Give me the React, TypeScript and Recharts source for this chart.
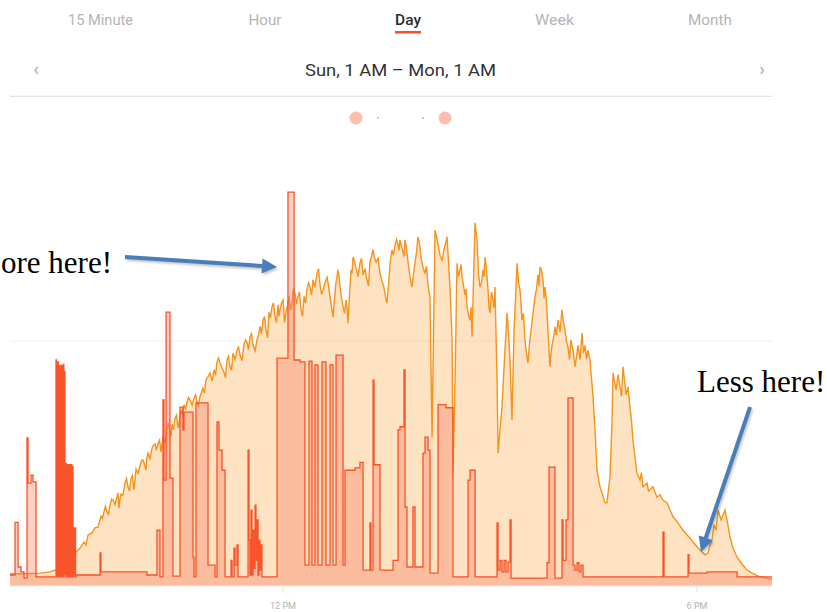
import React from 'react';
import { ComposedChart, Area, XAxis, YAxis, CartesianGrid } from 'recharts';

// Time in minutes after midnight, power in kW
const solarTimes = [
  482.6, 495.6, 508.7, 517.4, 524.3, 530.4, 534.8, 539.1, 543.5, 546.9, 548.7, 550.4, 553.9, 556.5, 559.1,
  561.7, 564.3, 566.9, 569.6, 572.2, 575.6, 577.4, 579.1, 582.6, 585.2, 587.8, 590.4, 592.2, 595.6, 598.3,
  600.9, 602.6, 606.1, 608.7, 611.3, 613.9, 615.6, 619.1, 621.7, 623.5, 626.1, 628.7, 631.3, 633.9, 636.5,
  639.1, 642.6, 645.2, 647.8, 650.4, 653.0, 656.5, 660.0, 662.6, 665.2, 668.7, 671.3, 673.9, 676.5, 680.0,
  682.6, 686.1, 688.7, 691.3, 693.9, 697.4, 700.0, 702.6, 705.2, 707.8, 710.4, 713.0, 715.7, 717.4, 720.0,
  722.6, 725.2, 727.8, 730.4, 733.0, 735.7, 738.3, 740.9, 743.5, 746.1, 749.6, 752.2, 754.8, 758.3, 760.9,
  763.5, 766.1, 767.8, 769.6, 772.2, 774.8, 776.5, 779.1, 780.9, 783.5, 786.9, 789.6, 793.0, 795.6, 798.3,
  800.9, 804.3, 807.8, 810.4, 813.0, 814.8, 817.4, 820.0, 821.7, 824.3, 826.1, 828.7, 832.2, 834.8, 837.4,
  840.0, 843.5, 846.1, 847.8, 849.6, 851.3, 852.2, 854.8, 858.3, 860.9, 862.6, 865.2, 867.0, 867.8, 869.6,
  871.3, 873.9, 875.7, 878.3, 880.0, 882.6, 884.4, 886.1, 887.0, 888.7, 891.3, 893.9, 895.7, 898.3, 900.0,
  902.6, 904.3, 906.1, 907.0, 908.7, 910.4, 913.0, 914.8, 917.4, 919.1, 920.9, 923.5, 926.1, 927.8, 930.4,
  933.0, 935.7, 939.1, 941.7, 943.5, 946.1, 947.8, 950.4, 952.2, 953.9, 956.5, 959.1, 962.6, 965.2, 967.8,
  970.4, 973.9, 976.5, 980.0, 982.6, 985.2, 986.9, 989.6, 991.3, 993.0, 995.6, 997.4, 1000.0, 1001.7, 1004.3,
  1006.1, 1007.0, 1009.6, 1013.0, 1015.7, 1018.3, 1021.7, 1024.3, 1027.8, 1030.4, 1033.0, 1036.5, 1039.1, 1041.7, 1045.2,
  1047.8, 1050.4, 1053.9, 1056.5, 1059.1, 1063.5, 1067.8, 1073.9, 1080.0, 1083.5, 1087.0, 1089.6, 1091.3, 1093.0, 1094.8,
  1096.5, 1098.3, 1100.9, 1102.6, 1104.3, 1106.1, 1108.7, 1111.3, 1114.8, 1119.1, 1123.5, 1127.8, 1134.8, 1140.0, 1145.2,
];
const solarKw = [
  0.20, 0.20, 0.21, 0.23, 0.28, 0.36, 0.44, 0.54, 0.62, 0.72, 0.67, 0.83, 0.87, 0.95, 0.96,
  1.14, 1.21, 1.21, 1.32, 1.40, 1.45, 1.27, 1.50, 1.68, 1.62, 1.76, 1.57, 1.91, 1.96, 2.06,
  1.89, 2.17, 2.25, 2.32, 2.33, 2.19, 2.42, 2.58, 2.51, 2.64, 2.74, 2.58, 2.87, 2.96, 3.00,
  3.04, 3.07, 3.00, 3.09, 3.23, 3.36, 3.48, 3.53, 3.66, 3.64, 3.49, 3.69, 3.58, 3.80, 3.85,
  3.77, 3.95, 3.98, 4.07, 3.93, 4.02, 4.24, 4.34, 4.18, 4.47, 4.56, 4.41, 4.59, 4.51, 4.67,
  4.47, 4.73, 4.62, 4.78, 4.72, 4.51, 4.73, 4.85, 4.88, 5.00, 5.11, 4.91, 4.83, 5.04, 4.72,
  4.39, 4.96, 5.16, 4.88, 4.56, 4.67, 4.29, 5.16, 5.37, 5.19, 5.27, 5.08, 5.00, 5.29, 5.49,
  5.29, 5.11, 4.87, 4.62, 5.24, 5.49, 5.57, 5.57, 5.65, 5.45, 5.65, 5.29, 4.88, 5.29, 5.70,
  5.36, 5.11, 4.91, 4.72, 2.43, 4.67, 5.81, 5.57, 5.32, 5.57, 5.70, 4.88, 4.02, 1.84, 3.36,
  5.27, 5.16, 5.04, 4.75, 4.56, 4.34, 4.07, 5.32, 5.93, 5.65, 4.88, 5.16, 5.37, 4.83, 4.46,
  4.67, 4.88, 3.36, 2.17, 2.55, 2.92, 3.85, 4.46, 3.69, 2.71, 4.18, 5.27, 4.83, 4.34, 4.02,
  3.64, 4.18, 4.72, 5.08, 5.21, 5.00, 4.88, 4.18, 3.58, 3.93, 4.23, 4.34, 4.51, 4.18, 3.90,
  4.02, 3.58, 3.93, 4.13, 3.93, 3.85, 3.69, 3.09, 2.55, 1.89, 1.62, 1.52, 1.36, 1.36, 1.78,
  2.71, 3.48, 3.20, 3.25, 3.58, 3.12, 2.92, 2.38, 1.84, 1.73, 1.62, 1.68, 1.57, 1.62, 1.45,
  1.49, 1.40, 1.36, 1.24, 1.13, 1.03, 0.91, 0.78, 0.64, 0.57, 0.51, 0.54, 0.67, 0.75, 1.00,
  0.91, 1.24, 1.08, 1.16, 1.24, 1.08, 0.80, 0.62, 0.47, 0.36, 0.26, 0.21, 0.15, 0.13, 0.11,
];

// Extra readings of the fine flicker of the solar curve
const solarFlickerTimes = [
  563.0, 565.6, 568.2, 570.9, 573.9, 576.5, 578.2, 580.8, 583.9, 586.5, 589.1, 591.3, 593.9, 597.0, 599.6,
  601.7, 604.3, 607.4, 610.0, 612.6, 614.7, 617.4, 620.4, 622.6, 624.8, 627.4, 630.0, 632.6, 635.2, 637.8,
  640.9, 643.9, 646.5, 649.1, 651.7, 654.8, 658.3, 661.3, 663.9, 667.0, 670.0, 672.6, 675.2, 678.3, 681.3,
  684.3, 687.4, 690.0, 692.6, 695.7, 698.7, 701.3, 703.9, 706.5, 709.1, 711.7, 714.3, 716.5, 718.7, 721.3,
  723.9, 726.5, 729.1, 731.7, 734.3, 737.0, 739.6, 742.2, 744.8, 747.8, 750.9, 753.5, 756.5, 759.6, 762.2,
  764.8, 767.0, 768.7, 770.9, 773.5, 775.6, 777.8, 780.0, 782.2, 785.2, 788.3, 791.3, 794.3, 796.9, 799.6,
  802.6, 806.1, 809.1, 811.7, 813.9, 816.1, 818.7, 820.8, 823.0, 825.2, 827.4, 830.4, 833.5, 836.1, 838.7,
  841.7, 844.8, 847.0, 853.5, 856.5, 859.6, 861.7, 863.9, 872.6, 874.8, 877.0, 879.1, 881.3, 883.5, 890.0,
  892.6, 894.8, 897.0, 899.1, 901.3, 903.5, 916.1, 922.2, 924.8, 927.0, 929.1, 931.7, 934.3, 937.4, 940.4,
  942.6, 944.8, 947.0, 949.1, 951.3, 953.0, 955.2, 957.8, 960.9, 963.9, 966.5, 969.1, 972.2, 975.2, 978.3,
  981.3, 983.9, 1011.3, 1014.3, 1017.0, 1020.0, 1023.0, 1031.7, 1037.8,
];
const solarFlickerKw = [
  1.10, 1.30, 1.17, 1.42, 1.33, 1.52, 1.41, 1.48, 1.75, 1.55, 1.80, 1.72, 1.84, 2.05, 1.98,
  2.10, 2.08, 2.30, 2.22, 2.38, 2.30, 2.35, 2.66, 2.45, 2.55, 2.79, 2.70, 2.80, 2.88, 3.08,
  2.95, 3.12, 2.94, 3.16, 3.15, 3.42, 3.35, 3.44, 3.72, 3.56, 3.40, 3.75, 3.52, 3.70, 3.90,
  3.68, 4.02, 3.86, 4.12, 3.84, 4.10, 4.12, 4.40, 4.05, 4.38, 4.62, 4.30, 4.40, 4.62, 4.30,
  4.58, 4.50, 4.85, 4.60, 4.80, 4.40, 4.62, 4.95, 4.75, 4.88, 5.18, 4.76, 4.95, 4.90, 4.55,
  4.70, 5.05, 5.05, 4.70, 4.45, 4.55, 4.75, 5.10, 5.30, 5.05, 5.35, 5.18, 4.90, 5.38, 5.35,
  5.35, 4.98, 4.72, 4.90, 5.38, 5.40, 5.66, 5.48, 5.55, 5.38, 5.50, 5.05, 5.10, 5.45, 5.60,
  5.20, 5.22, 4.80, 5.70, 5.40, 5.45, 5.62, 5.30, 5.05, 5.25, 4.90, 4.85, 4.42, 4.55, 5.10,
  4.95, 5.05, 5.15, 4.55, 4.80, 4.55, 4.10, 4.70, 4.95, 4.60, 4.45, 3.80, 3.95, 4.45, 4.85,
  4.90, 5.15, 4.70, 4.65, 3.85, 3.80, 4.05, 4.10, 4.15, 4.30, 4.00, 3.70, 3.85, 3.75, 3.70,
  3.80, 3.70, 3.45, 3.10, 3.35, 3.25, 2.70, 1.85, 1.55,
];

const loadTimes = [
  482.6, 487.0, 489.6, 492.2, 494.8, 497.4, 498.3, 500.9, 502.6, 505.2,
  522.6, 523.0, 523.4, 523.8, 524.2, 524.6, 525.0, 525.4, 525.8, 526.2, 526.6, 527.0, 527.4, 527.8, 528.2,
  528.6, 529.0, 529.4, 529.8, 530.4, 530.8, 531.2, 531.6, 532.0, 532.4, 532.8, 533.2, 533.6, 534.0, 534.4,
  534.8, 535.2, 535.6, 536.0, 536.4, 536.8, 537.4, 537.8, 538.2, 538.6, 539.0, 539.6, 540.0,
  560.9, 561.7, 601.7, 610.4, 613.0, 615.6, 616.5, 618.3, 621.7, 624.3, 630.4, 633.0, 633.9, 641.7, 642.6,
  644.3, 654.8, 660.9, 662.6, 664.3, 667.0, 669.6, 674.8, 675.7, 677.4, 678.3, 680.0, 680.9, 689.6, 690.4,
  691.3, 692.2, 693.0, 693.9, 694.8, 695.7, 696.5, 697.4, 698.3, 699.1, 700.0, 700.9, 701.7,
  714.8, 724.3, 729.6, 734.8, 739.1, 742.6, 745.2, 747.8, 750.4, 753.9, 757.4, 760.9, 763.5, 766.1, 772.2,
  773.9, 782.6, 786.9, 789.6, 795.6, 796.5, 798.3, 799.1, 804.3, 815.7, 820.0, 821.7, 825.2, 826.1, 827.8,
  833.0, 834.8, 841.7, 843.5, 846.1, 847.8, 854.8, 861.7, 867.8, 880.9, 882.6, 887.0,
  906.1, 907.0, 908.7, 910.4, 912.2, 913.9, 915.7, 917.4, 918.3, 949.6, 951.3, 956.5, 962.6, 963.5, 966.1,
  967.8, 972.2, 973.9, 975.7, 977.4, 979.1, 980.9, 1050.4, 1051.3, 1072.2, 1073.0, 1088.7, 1114.8, 1145.2,
];
const loadKw = [
  0.18, 1.04, 0.31, 0.23, 0.13, 2.42, 1.68, 1.81, 1.70, 0.15,
  3.69, 0.15, 3.60, 0.15, 3.66, 0.30, 3.58, 0.15, 3.60, 0.20, 3.55, 0.15, 3.60, 0.15, 3.58,
  0.20, 3.62, 0.15, 3.50, 1.98, 0.20, 2.00, 0.15, 1.95, 0.15, 1.98, 0.20, 1.96, 0.15, 1.98,
  0.15, 1.95, 0.20, 1.98, 0.15, 1.95, 0.95, 0.15, 0.93, 0.20, 0.95, 0.15, 0.18,
  0.54, 0.23, 0.18, 0.91, 0.15, 3.04, 1.73, 4.47, 1.76, 0.16, 2.92, 2.55, 2.84, 0.47, 0.15,
  2.99, 0.34, 0.15, 2.68, 2.22, 1.89, 0.15, 0.42, 0.15, 0.62, 0.34, 0.67, 0.15, 2.22, 0.75,
  0.18, 1.24, 0.18, 0.91, 0.29, 1.32, 0.42, 1.08, 0.18, 0.75, 0.26, 0.67, 0.15,
  3.72, 6.43, 3.69, 3.66, 0.34, 3.67, 0.34, 3.61, 0.34, 3.66, 0.34, 3.61, 0.34, 3.77, 0.34,
  1.89, 1.93, 2.02, 0.26, 1.03, 0.26, 3.36, 1.98, 0.26, 0.42, 2.55, 2.60, 3.53, 1.29, 0.31,
  1.29, 0.31, 2.17, 2.43, 2.22, 0.21, 2.96, 2.91, 0.15, 1.73, 1.89, 0.15,
  1.03, 0.26, 0.42, 0.23, 0.42, 0.23, 0.39, 1.08, 0.13, 0.38, 1.94, 0.13, 1.08, 0.42, 1.08,
  3.07, 0.34, 0.26, 0.38, 0.23, 0.34, 0.15, 0.88, 0.15, 0.51, 0.21, 0.23, 0.15, 0.15,
];

const tickTimes = [720, 1080];
const tickLabels = ['12 PM', '6 PM'];
const tabs = ['15 Minute', 'Hour', 'Day', 'Week', 'Month'];
const tabCenters = [100.5, 265, 408, 554.5, 710];
const tabWidths = [65, 33, 26, 39, 44];
const rangeLabel = 'Sun, 1 AM \u2013 Mon, 1 AM';

type Row = { t: number; solar?: number; load?: number };
const rows: Row[] = [
  ...solarTimes.map((t, i) => ({ t, solar: solarKw[i] })),
  ...solarFlickerTimes.map((t, i) => ({ t, solar: solarFlickerKw[i] })),
  ...loadTimes.map((t, i) => ({ t, load: loadKw[i] })),
].sort((a, b) => a.t - b.t);

function arrowPoints(x1: number, y1: number, x2: number, y2: number, shaft: number, headW: number, headL: number) {
  const dx = x2 - x1;
  const dy = y2 - y1;
  const len = Math.hypot(dx, dy);
  const ux = dx / len;
  const uy = dy / len;
  const px = -uy;
  const py = ux;
  const bx = x2 - ux * headL;
  const by = y2 - uy * headL;
  const pts = [
    [x1 + px * shaft, y1 + py * shaft],
    [bx + px * shaft, by + py * shaft],
    [bx + px * headW, by + py * headW],
    [x2, y2],
    [bx - px * headW, by - py * headW],
    [bx - px * shaft, by - py * shaft],
    [x1 - px * shaft, y1 - py * shaft],
  ];
  return pts.map((p) => `${p[0].toFixed(1)},${p[1].toFixed(1)}`).join(' ');
}

const Arrow = ({ x1, y1, x2, y2 }: { x1: number; y1: number; x2: number; y2: number }) => {
  const pts = arrowPoints(x1, y1, x2, y2, 2, 7.5, 15);
  return (
    <g>
      <polygon points={pts} fill="rgba(0,0,0,0.22)" transform="translate(1.5,2)" filter="url(#blur)" />
      <polygon points={pts} fill="#4a7ebb" />
    </g>
  );
};

export default function App() {
  return (
    <div style={{ position: 'absolute', left: 0, top: 0, width: 827, height: 612, background: '#ffffff', overflow: 'hidden' }}>
      <ComposedChart width={827} height={612} data={rows} margin={{ top: 96, right: 55, bottom: 6, left: 10 }}>
        <CartesianGrid vertical={false} stroke="#efefef" />
        <XAxis
          dataKey="t"
          type="number"
          domain={[482.6, 1145.2]}
          allowDataOverflow
          ticks={tickTimes}
          tickFormatter={(v: number) => tickLabels[tickTimes.indexOf(v)] ?? ''}
          height={20}
          axisLine={{ stroke: '#eeeeee' }}
          tickLine={{ stroke: '#dddddd' }}
          tickSize={6}
          tickMargin={11}
          tick={{ fill: '#b3b3b3', fontSize: 9, fontFamily: 'Roboto, sans-serif' }}
        />
        <YAxis type="number" domain={[0, 8]} ticks={[4]} hide />
        <Area
          dataKey="solar"
          type="linear"
          stroke="#f7921c"
          strokeWidth={1.4}
          fill="#fab966"
          fillOpacity={0.4}
          connectNulls
          dot={false}
          activeDot={false}
          isAnimationActive={false}
        />
        <Area
          dataKey="load"
          type="stepAfter"
          stroke="#f8532a"
          strokeWidth={1.3}
          fill="#f6765a"
          fillOpacity={0.35}
          connectNulls
          dot={false}
          activeDot={false}
          isAnimationActive={false}
        />
      </ComposedChart>

      <svg width={827} height={612} style={{ position: 'absolute', left: 0, top: 0, pointerEvents: 'none' }}>
        <defs>
          <filter id="blur" x="-10%" y="-10%" width="120%" height="120%">
            <feGaussianBlur stdDeviation="1.2" />
          </filter>
        </defs>
        {tabs.map((label, i) => (
          <text
            key={label}
            x={tabCenters[i]}
            y={25}
            textAnchor="middle"
            fontFamily="Roboto, sans-serif"
            fontSize={14}
            fontWeight={label === 'Day' ? 500 : 400}
            fill={label === 'Day' ? '#2b2b2b' : '#b4b4b4'}
            textLength={tabWidths[i]}
            lengthAdjust="spacingAndGlyphs"
          >
            {label}
          </text>
        ))}
        <rect x={395} y={31} width={26} height={2.5} fill="#f2512a" />
        <text x={36} y={75} textAnchor="middle" fontFamily="Roboto, sans-serif" fontSize={19} fill="#b0b0b0">‹</text>
        <text x={762} y={75} textAnchor="middle" fontFamily="Roboto, sans-serif" fontSize={19} fill="#b0b0b0">›</text>
        <text
          x={400.5}
          y={76}
          textAnchor="middle"
          fontFamily="Roboto, sans-serif"
          fontSize={16.5}
          fill="#333333"
          textLength={191}
          lengthAdjust="spacingAndGlyphs"
        >
          {rangeLabel}
        </text>
        <line x1={10} x2={772} y1={96.5} y2={96.5} stroke="#e4e4e4" strokeWidth={1} />
        <circle cx={356} cy={118} r={6.5} fill="#ffbdad" />
        <circle cx={378} cy={118} r={1} fill="#f7a08a" />
        <circle cx={423} cy={118} r={1} fill="#f7a08a" />
        <circle cx={445} cy={118} r={6.5} fill="#ffbdad" />

        <text x={1} y={273} fontFamily="'Liberation Serif', 'Times New Roman', serif" fontSize={31} fill="#000">ore here!</text>
        <Arrow x1={125} y1={257} x2={277} y2={267} />
        <text x={697} y={392} fontFamily="'Liberation Serif', 'Times New Roman', serif" fontSize={31} fill="#000">Less here!</text>
        <Arrow x1={750} y1={407} x2={701} y2={552} />
      </svg>
    </div>
  );
}
